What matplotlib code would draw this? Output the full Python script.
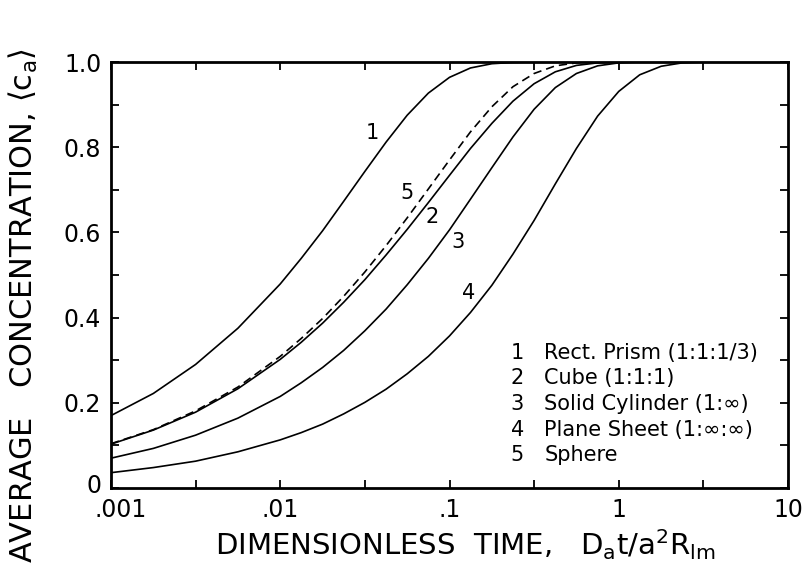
import matplotlib.pyplot as plt
import matplotlib.transforms as mtransforms
import numpy as np

plt.rcParams['font.family'] = ['DejaVu Sans']
plt.rcParams['mathtext.fontset'] = 'dejavusans'

# dimensionless time, D_a t / a^2 R_lm
tau = [0.001, 0.00178, 0.00316, 0.00562, 0.01, 0.0133, 0.0178, 0.0237,
       0.0316, 0.0422, 0.0562, 0.075, 0.1, 0.133, 0.178, 0.237,
       0.316, 0.422, 0.562, 0.75, 1.0, 1.33, 1.78, 2.37,
       3.16, 4.22, 5.62, 7.5, 10.0]

# average concentration <c_a> for each particle shape
prism = [0.170, 0.222, 0.290, 0.375, 0.479, 0.539, 0.604, 0.673,
         0.743, 0.812, 0.875, 0.927, 0.964, 0.986, 0.996, 0.999,
         1.0, 1.0, 1.0, 1.0, 1.0, 1.0, 1.0, 1.0,
         1.0, 1.0, 1.0, 1.0, 1.0]
cube = [0.103, 0.136, 0.178, 0.233, 0.302, 0.342, 0.387, 0.436,
        0.489, 0.547, 0.607, 0.670, 0.734, 0.797, 0.856, 0.908,
        0.949, 0.977, 0.992, 0.998, 1.0, 1.0, 1.0, 1.0,
        1.0, 1.0, 1.0, 1.0, 1.0]
cylinder = [0.070, 0.093, 0.124, 0.164, 0.215, 0.247, 0.283, 0.323,
            0.369, 0.420, 0.477, 0.539, 0.606, 0.678, 0.752, 0.824,
            0.889, 0.940, 0.973, 0.991, 0.998, 1.0, 1.0, 1.0,
            1.0, 1.0, 1.0, 1.0, 1.0]
plane = [0.036, 0.048, 0.063, 0.085, 0.113, 0.130, 0.150, 0.174,
         0.201, 0.232, 0.268, 0.309, 0.357, 0.412, 0.476, 0.549,
         0.628, 0.714, 0.797, 0.873, 0.931, 0.970, 0.990, 0.998,
         1.0, 1.0, 1.0, 1.0, 1.0]
sphere = [0.104, 0.137, 0.181, 0.237, 0.309, 0.351, 0.398, 0.450,
          0.507, 0.569, 0.634, 0.702, 0.770, 0.836, 0.895, 0.942,
          0.973, 0.991, 0.998, 1.0, 1.0, 1.0, 1.0, 1.0,
          1.0, 1.0, 1.0, 1.0, 1.0]

shape_names = ['Rect. Prism (1:1:1/3)', 'Cube (1:1:1)', 'Solid Cylinder (1:\u221e)',
               'Plane Sheet (1:\u221e:\u221e)', 'Sphere']

x_ticks = [0.001, 0.00316, 0.01, 0.0316, 0.1, 0.316, 1, 3.16, 10]
x_ticklabels = ['.001', '', '.01', '', '.1', '', '1', '', '10']
y_ticks = [0, 0.1, 0.2, 0.3, 0.4, 0.5, 0.6, 0.7, 0.8, 0.9, 1.0]
y_ticklabels = ['0', '', '0.2', '', '0.4', '', '0.6', '', '0.8', '', '1.0']

fig = plt.figure(figsize=(8.06, 5.8), dpi=100)
ax = fig.add_axes([0.1377, 0.1586, 0.84, 0.7345])

lw = 1.2
ax.plot(tau, prism, color='black', lw=lw)
ax.plot(tau, cube, color='black', lw=lw)
ax.plot(tau, cylinder, color='black', lw=lw)
ax.plot(tau, plane, color='black', lw=lw)
ax.plot(tau, sphere, color='black', lw=lw, dashes=(5, 3))

ax.set_xscale('log')
ax.set_xlim(0.001, 10)
ax.set_ylim(0, 1.0)
ax.set_xticks(x_ticks)
ax.set_xticklabels(x_ticklabels)
ax.minorticks_off()
ax.set_yticks(y_ticks)
ax.set_yticklabels(y_ticklabels)
ax.tick_params(direction='in', length=6, width=1.3, top=True, right=True,
               labelsize=17, pad=7)
for sp in ax.spines.values():
    sp.set_linewidth(2.0)

# nudge the corner labels apart
xl0 = ax.get_xticklabels()[0]
xl0.set_transform(xl0.get_transform() +
                  mtransforms.ScaledTranslation(0.10, 0, fig.dpi_scale_trans))
yl0 = ax.get_yticklabels()[0]
yl0.set_transform(yl0.get_transform() +
                  mtransforms.ScaledTranslation(0, 0.05, fig.dpi_scale_trans))

# curve numbers
ax.text(0.0348, 0.833, '1', fontsize=15, ha='center', va='center')
ax.text(0.0558, 0.692, '5', fontsize=15, ha='center', va='center')
ax.text(0.0785, 0.637, '2', fontsize=15, ha='center', va='center')
ax.text(0.1127, 0.578, '3', fontsize=15, ha='center', va='center')
ax.text(0.129, 0.457, '4', fontsize=15, ha='center', va='center')

# key
rows = [0.317, 0.258, 0.197, 0.136, 0.077]
for i, (name, yr) in enumerate(zip(shape_names, rows)):
    ax.text(0.600, yr, str(i + 1), transform=ax.transAxes, fontsize=15,
            ha='center', va='center')
    ax.text(0.640, yr, name, transform=ax.transAxes, fontsize=15,
            ha='left', va='center')

ax.set_ylabel(r'AVERAGE   CONCENTRATION, $\langle\mathrm{c_a}\rangle$',
              fontsize=22, va='center')
ax.yaxis.set_label_coords(-0.130, 0.428)
ax.set_xlabel(r'DIMENSIONLESS  TIME,   $\mathrm{D_a t/a^2 R_{lm}}$',
              fontsize=21, va='center')
ax.xaxis.set_label_coords(0.523, -0.134)

fig.savefig('out.png', dpi=100)
